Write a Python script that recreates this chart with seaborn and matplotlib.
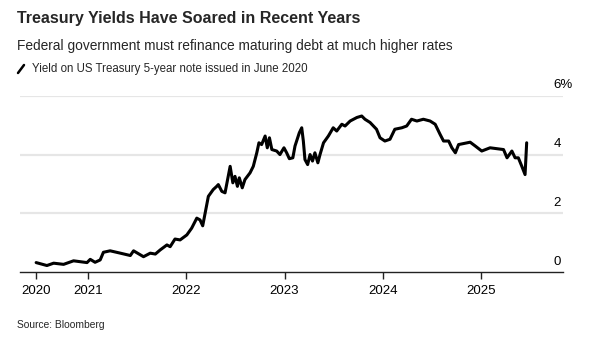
import matplotlib
matplotlib.use("Agg")
import matplotlib.pyplot as plt
from matplotlib.lines import Line2D
from matplotlib.transforms import ScaledTranslation
import seaborn as sns
import pandas as pd

dates = [
    "2020-06-22", "2020-08-01", "2020-08-26", "2020-10-02", "2020-11-08", "2020-12-28",
    "2021-01-09", "2021-01-27", "2021-02-15", "2021-02-27", "2021-03-24", "2021-05-01",
    "2021-06-07", "2021-06-19", "2021-07-26", "2021-08-20", "2021-09-08", "2021-09-26",
    "2021-10-21", "2021-11-02", "2021-11-20", "2021-12-09", "2022-01-03", "2022-01-21",
    "2022-02-09", "2022-02-21", "2022-03-03", "2022-03-24", "2022-04-11", "2022-04-24",
    "2022-04-30", "2022-05-13", "2022-05-25", "2022-06-13", "2022-06-23", "2022-07-01",
    "2022-07-10", "2022-07-17", "2022-07-28", "2022-08-07", "2022-08-26", "2022-09-07",
    "2022-09-20", "2022-09-28", "2022-10-08", "2022-10-21", "2022-10-29", "2022-11-06",
    "2022-11-15", "2022-12-03", "2022-12-15", "2022-12-30", "2023-01-09", "2023-01-19",
    "2023-02-01", "2023-02-09", "2023-02-25", "2023-03-06", "2023-03-12", "2023-03-18",
    "2023-03-28", "2023-04-06", "2023-04-15", "2023-04-24", "2023-05-05", "2023-05-13",
    "2023-05-26", "2023-06-13", "2023-07-01", "2023-07-14", "2023-08-02", "2023-08-14",
    "2023-09-02", "2023-09-27", "2023-10-15", "2023-10-27", "2023-11-15", "2023-12-09",
    "2023-12-22", "2024-01-09", "2024-01-28", "2024-02-15", "2024-03-12", "2024-03-30",
    "2024-04-17", "2024-05-07", "2024-05-31", "2024-06-25", "2024-07-14", "2024-08-01",
    "2024-08-14", "2024-09-02", "2024-09-14", "2024-09-27", "2024-10-09", "2024-11-21",
    "2024-12-10", "2025-01-03", "2025-02-03", "2025-03-25", "2025-04-07", "2025-04-25",
    "2025-05-07", "2025-05-19", "2025-06-01", "2025-06-13", "2025-06-19",
]
yields = [
    0.33, 0.23, 0.31, 0.27, 0.39, 0.33,
    0.44, 0.34, 0.42, 0.68, 0.73, 0.65,
    0.57, 0.73, 0.53, 0.65, 0.62, 0.76,
    0.93, 0.87, 1.13, 1.10, 1.27, 1.50,
    1.84, 1.78, 1.58, 2.58, 2.81, 2.92,
    2.98, 2.75, 2.70, 3.60, 3.04, 3.26,
    2.92, 3.21, 2.87, 3.15, 3.38, 3.60,
    4.06, 4.40, 4.34, 4.63, 4.23, 4.57,
    4.17, 4.12, 4.00, 4.23, 4.06, 3.86,
    3.89, 4.29, 4.74, 4.91, 4.46, 3.83,
    3.66, 4.00, 3.78, 4.06, 3.72, 4.00,
    4.40, 4.63, 4.91, 4.80, 5.03, 4.97,
    5.14, 5.26, 5.31, 5.20, 5.09, 4.86,
    4.57, 4.46, 4.52, 4.86, 4.91, 4.97,
    5.20, 5.14, 5.20, 5.14, 5.03, 4.69,
    4.46, 4.46, 4.23, 4.06, 4.34, 4.42,
    4.29, 4.12, 4.23, 4.17, 3.89, 4.12,
    3.89, 3.89, 3.60, 3.32, 4.40,
]
x_tick_dates = ["2020-06-22", "2021-01-01", "2022-01-01", "2023-01-01", "2024-01-01", "2025-01-01"]
x_tick_labels = ["2020", "2021", "2022", "2023", "2024", "2025"]
y_ticks = [0, 2, 4, 6]
y_tick_labels = ["0", "2", "4", "6%"]

title = "Treasury Yields Have Soared in Recent Years"
subtitle = "Federal government must refinance maturing debt at much higher rates"
legend_label = "Yield on US Treasury 5-year note issued in June 2020"
source = "Source: Bloomberg"

sns.set_theme(style="white")
plt.rcParams["font.family"] = ["Liberation Sans", "DejaVu Sans"]

df = pd.DataFrame({"date": pd.to_datetime(dates), "yield": yields})

fig = plt.figure(figsize=(6.0, 3.45), dpi=100)
ax = fig.add_axes([20 / 600, 1 - 272.3 / 345, (563 - 20) / 600, (272.3 - 95.7) / 345])

sns.lineplot(data=df, x="date", y="yield", ax=ax, color="black", linewidth=2.2, legend=False)

ax.set_xlim(pd.Timestamp("2020-04-23"), pd.Timestamp("2025-11-01"))
ax.set_ylim(0, 6)
ax.set_xlabel("")
ax.set_ylabel("")

for v in y_ticks[1:]:
    ax.axhline(v, color="#e6e6e6", linewidth=1.6, zorder=0)

for s in ["top", "left", "right"]:
    ax.spines[s].set_visible(False)
ax.spines["bottom"].set_color("#222222")
ax.spines["bottom"].set_linewidth(1.0)
ax.spines["bottom"].set_zorder(3)

ax.set_xticks(pd.to_datetime(x_tick_dates))
ax.set_xticklabels(x_tick_labels)
ax.tick_params(axis="x", length=5, width=1.0, color="#222222", labelsize=9.5,
               labelcolor="black", pad=4, bottom=True)

ax.yaxis.tick_right()
ax.set_yticks(y_ticks)
ax.set_yticklabels(y_tick_labels)
ax.tick_params(axis="y", length=0, pad=-7, labelsize=9.5, labelcolor="black")
shift = ScaledTranslation(0, 0.045, fig.dpi_scale_trans)
for lab in ax.get_yticklabels():
    lab.set_verticalalignment("bottom")
    lab.set_horizontalalignment("left")
    lab.set_transform(lab.get_transform() + shift)

fig.text(17 / 600, 1 - 19 / 345, title, fontsize=11.5, fontweight="bold", va="center", ha="left")
fig.text(17 / 600, 1 - 46 / 345, subtitle, fontsize=9.9, va="center", ha="left")
fig.add_artist(Line2D([18 / 600, 24 / 600], [1 - 73 / 345, 1 - 65 / 345], color="black",
                      linewidth=1.8, transform=fig.transFigure))
fig.text(32 / 600, 1 - 69 / 345, legend_label, fontsize=8.3, va="center", ha="left")
fig.text(17 / 600, 1 - 325 / 345, source, fontsize=7.4, va="center", ha="left")

fig.savefig("out.png", dpi=100)
